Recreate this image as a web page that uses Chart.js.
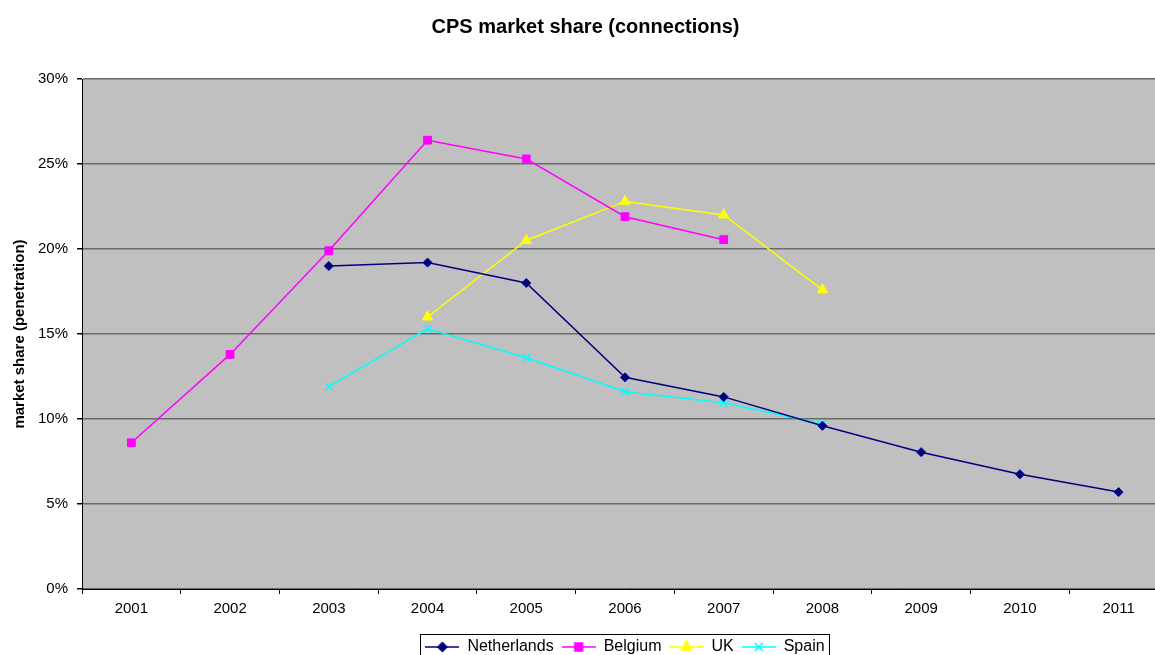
<!DOCTYPE html>
<html lang="en">
<head>
  <meta charset="UTF-8" />
  <title>CPS market share (connections)</title>
  <script src="https://cdn.jsdelivr.net/npm/chart.js"></script>
  <style>
    body {
      margin: 0;
      padding: 0;
      background: #ffffff;
      overflow: hidden;
    }
    #wrap {
      width: 1155px;
      height: 655px;
      overflow: hidden;
    }
    canvas {
      display: block;
    }
  </style>
</head>
<body>
  <div id="wrap">
    <canvas id="shareChart" width="1175" height="665"></canvas>
  </div>

  <script>
    // values, in % of connections
    const years = ['2001', '2002', '2003', '2004', '2005', '2006', '2007', '2008', '2009', '2010', '2011'];
    const netherlands = [null, null, 19.0, 19.2, 18.0, 12.45, 11.3, 9.6, 8.05, 6.75, 5.7];
    const belgium = [8.6, 13.8, 19.9, 26.4, 25.3, 21.9, 20.55, null, null, null, null];
    const uk = [null, null, null, 16.0, 20.5, 22.8, 22.0, 17.6, null, null, null];
    const spain = [null, null, 11.9, 15.3, 13.6, 11.6, 10.95, 9.7, null, null, null];

    const FONT = '"Liberation Sans", Arial, sans-serif';

    // little line+marker swatch for the legend
    function swatch(color, style, r) {
      const c = document.createElement('canvas');
      c.width = 34;
      c.height = 14;
      const ctx = c.getContext('2d');
      ctx.strokeStyle = color;
      ctx.fillStyle = color;
      ctx.lineWidth = 1.5;
      ctx.beginPath();
      ctx.moveTo(0, 7);
      ctx.lineTo(34, 7);
      ctx.stroke();
      Chart.helpers.drawPoint(ctx, { pointStyle: style, radius: r, borderWidth: 1.5 }, 17, 7);
      if (style !== 'crossRot') ctx.fill();
      return c;
    }

    const plotBg = {
      id: 'plotBg',
      beforeDraw(chart) {
        const a = chart.chartArea;
        const ctx = chart.ctx;
        ctx.save();
        ctx.fillStyle = '#c0c0c0';
        ctx.fillRect(a.left, a.top, a.right - a.left, a.bottom - a.top);
        ctx.restore();
      },
      afterDraw(chart) {
        const boxes = chart.legend.legendHitBoxes;
        if (!boxes || !boxes.length) return;
        const first = boxes[0];
        const last = boxes[boxes.length - 1];
        const ctx = chart.ctx;
        ctx.save();
        ctx.strokeStyle = '#000';
        ctx.lineWidth = 1;
        const x0 = Math.round(first.left) - 4.5;
        const x1 = Math.round(last.left + last.width) + 4.5;
        const y0 = Math.round(first.top) - 4.5;
        ctx.strokeRect(x0, y0, x1 - x0, 40);
        ctx.restore();
      }
    };

    const series = [
      { label: 'Netherlands', data: netherlands, color: '#000080', style: 'rectRot', r: 4.5 },
      { label: 'Belgium', data: belgium, color: '#ff00ff', style: 'rect', r: 5.5 },
      { label: 'UK', data: uk, color: '#ffff00', style: 'triangle', r: 6 },
      { label: 'Spain', data: spain, color: '#00ffff', style: 'crossRot', r: 5.5 }
    ];

    const legendImgs = series.map(s => swatch(s.color, s.style, s.r));

    new Chart(document.getElementById('shareChart').getContext('2d'), {
      type: 'line',
      data: {
        labels: years,
        datasets: series.map(s => ({
          label: s.label,
          data: s.data,
          borderColor: s.color,
          backgroundColor: s.color,
          borderWidth: 1.5,
          pointStyle: s.style,
          pointRadius: s.r,
          pointBorderWidth: s.style === 'crossRot' ? 1.5 : 1,
          pointBackgroundColor: s.color,
          pointBorderColor: s.color,
          tension: 0,
          spanGaps: false
        }))
      },
      options: {
        responsive: false,
        animation: false,
        devicePixelRatio: 1,
        layout: { padding: { left: 0, right: 4, top: 0, bottom: 0 } },
        plugins: {
          title: {
            display: true,
            text: 'CPS market share (connections)',
            color: '#000',
            font: { family: FONT, size: 20, weight: 'bold' },
            padding: { top: 15, bottom: 40 }
          },
          legend: {
            position: 'bottom',
            fullSize: false,
            labels: {
              usePointStyle: true,
              pointStyleWidth: 34,
              color: '#000',
              font: { family: FONT, size: 16 },
              padding: 8,
              boxHeight: 14,
              generateLabels(chart) {
                return series.map((s, i) => ({
                  text: s.label,
                  pointStyle: legendImgs[i],
                  fillStyle: s.color,
                  strokeStyle: s.color,
                  lineWidth: 0,
                  hidden: false,
                  datasetIndex: i
                }));
              }
            }
          },
          tooltip: { enabled: false }
        },
        scales: {
          x: {
            offset: true,
            grid: {
              offset: true,
              drawOnChartArea: false,
              color: '#000',
              tickLength: 5
            },
            border: { color: '#000', width: 1 },
            ticks: {
              color: '#000',
              font: { family: FONT, size: 15 },
              padding: 6,
              maxRotation: 0
            },
            afterFit(scale) { scale.height = 42; }
          },
          y: {
            min: 0,
            max: 30,
            grid: {
              color: '#6a6a6a',
              lineWidth: 1.5,
              tickColor: '#000',
              tickLength: 5
            },
            border: { color: '#000', width: 1 },
            ticks: {
              stepSize: 5,
              color: '#000',
              font: { family: FONT, size: 15 },
              padding: 9,
              callback: v => v + '%'
            },
            title: {
              display: true,
              text: 'market share (penetration)',
              color: '#000',
              font: { family: FONT, size: 15, weight: 'bold' },
              padding: { top: 11, bottom: 6 }
            },
            afterFit(scale) { scale.width = 82; }
          }
        }
      },
      plugins: [plotBg]
    });
  </script>
</body>
</html>
